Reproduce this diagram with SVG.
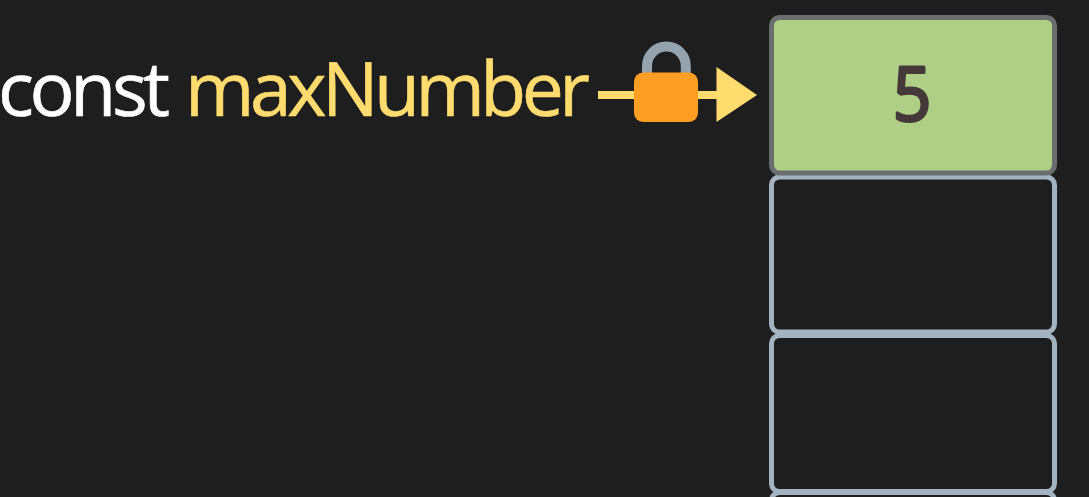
<svg xmlns="http://www.w3.org/2000/svg" width="1089" height="497" viewBox="0 0 1089 497">
<style>
.cell{fill:#1e1e1e;stroke:#a3b3c0;stroke-width:5}
.label{font-family:"Open Sans","Noto Sans",sans-serif;font-size:75px;stroke-width:.6}
</style>
<rect width="1089" height="497" fill="#1e1e1e"/>
<g id="label-const"><text class="label" x="-2" y="116" fill="#ffffff" stroke="#ffffff" textLength="172" lengthAdjust="spacing">const</text></g>
<g id="label-maxNumber"><text class="label" x="185" y="116" fill="#ffdc6d" stroke="#ffdc6d" textLength="405" lengthAdjust="spacing">maxNumber</text></g>
<g id="connectors">
<rect x="598" y="91" width="120" height="8" fill="#ffdc6d"/>
<polygon points="716.5,67 757,95 716.5,122" fill="#ffdc6d"/>
</g>
<g id="lock">
<path d="M647 80V66a19.4 19.4 0 0 1 38.8 0V80" fill="none" stroke="#94a3ae" stroke-width="10"/>
<rect x="634" y="72.5" width="64" height="49.5" rx="9" fill="#fe9f24"/>
</g>
<g id="cell-4"><rect class="cell" x="771.5" y="492.5" width="283" height="40" rx="8"/></g>
<g id="cell-3"><rect class="cell" x="771.5" y="335.5" width="283" height="156" rx="8"/></g>
<g id="cell-2"><rect class="cell" x="771.5" y="177" width="283" height="155" rx="8"/></g>
<g id="cell-1">
<rect x="771.5" y="17.5" width="283" height="155.5" rx="8" fill="#aecf85" stroke="#6b6d70" stroke-width="5"/>
<text transform="translate(912 120.5) scale(.9 1)" text-anchor="middle" font-family="'Open Sans','Noto Sans',sans-serif" font-size="75" fill="#45393a" stroke="#45393a" stroke-width="3" stroke-linejoin="round">5</text>
</g>
</svg>
